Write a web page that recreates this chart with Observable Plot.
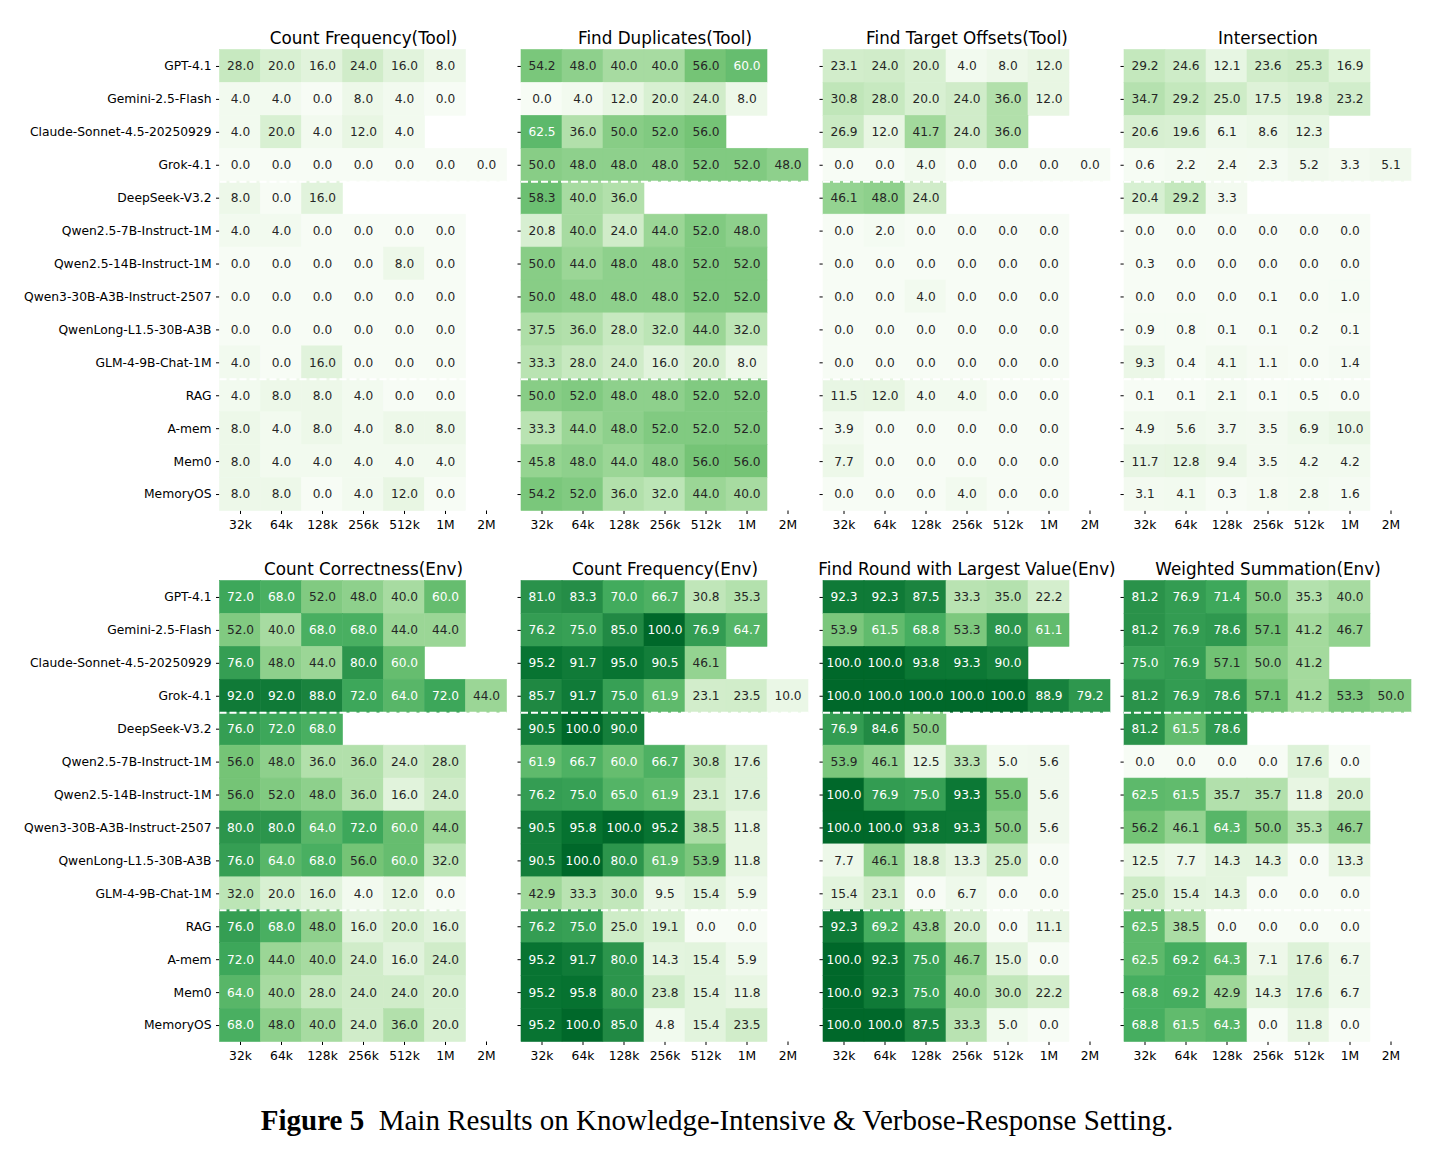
<!DOCTYPE html>
<html><head><meta charset="utf-8">
<script src="https://cdn.jsdelivr.net/npm/d3@7"></script>
<script src="https://cdn.jsdelivr.net/npm/@observablehq/plot@0.6"></script>
<style>
body{margin:0;background:#fff;}
#wrap{position:relative;width:1434px;height:1152px;overflow:hidden;}
.panel{position:absolute;}
#caption{position:absolute;left:0;width:1434px;top:1103px;text-align:center;font-family:"Liberation Serif","Times New Roman",serif;font-size:29px;line-height:34px;color:#000;white-space:pre;}
</style></head><body><div id="wrap"><div id="caption"><b>Figure 5</b>  Main Results on Knowledge-Intensive &amp; Verbose-Response Setting.</div></div>
<script>
const models = ["GPT-4.1","Gemini-2.5-Flash","Claude-Sonnet-4.5-20250929","Grok-4.1","DeepSeek-V3.2","Qwen2.5-7B-Instruct-1M","Qwen2.5-14B-Instruct-1M","Qwen3-30B-A3B-Instruct-2507","QwenLong-L1.5-30B-A3B","GLM-4-9B-Chat-1M","RAG","A-mem","Mem0","MemoryOS"];
const lengths = ["32k","64k","128k","256k","512k","1M","2M"];
const titles = ["Count Frequency(Tool)","Find Duplicates(Tool)","Find Target Offsets(Tool)","Intersection","Count Correctness(Env)","Count Frequency(Env)","Find Round with Largest Value(Env)","Weighted Summation(Env)"];
const separatorsBefore = ["DeepSeek-V3.2","RAG"];

const countFrequencyTool = [
  [28.0,20.0,16.0,24.0,16.0,8.0,null],
  [4.0,4.0,0.0,8.0,4.0,0.0,null],
  [4.0,20.0,4.0,12.0,4.0,null,null],
  [0.0,0.0,0.0,0.0,0.0,0.0,0.0],
  [8.0,0.0,16.0,null,null,null,null],
  [4.0,4.0,0.0,0.0,0.0,0.0,null],
  [0.0,0.0,0.0,0.0,8.0,0.0,null],
  [0.0,0.0,0.0,0.0,0.0,0.0,null],
  [0.0,0.0,0.0,0.0,0.0,0.0,null],
  [4.0,0.0,16.0,0.0,0.0,0.0,null],
  [4.0,8.0,8.0,4.0,0.0,0.0,null],
  [8.0,4.0,8.0,4.0,8.0,8.0,null],
  [8.0,4.0,4.0,4.0,4.0,4.0,null],
  [8.0,8.0,0.0,4.0,12.0,0.0,null]
];
const findDuplicatesTool = [
  [54.2,48.0,40.0,40.0,56.0,60.0,null],
  [0.0,4.0,12.0,20.0,24.0,8.0,null],
  [62.5,36.0,50.0,52.0,56.0,null,null],
  [50.0,48.0,48.0,48.0,52.0,52.0,48.0],
  [58.3,40.0,36.0,null,null,null,null],
  [20.8,40.0,24.0,44.0,52.0,48.0,null],
  [50.0,44.0,48.0,48.0,52.0,52.0,null],
  [50.0,48.0,48.0,48.0,52.0,52.0,null],
  [37.5,36.0,28.0,32.0,44.0,32.0,null],
  [33.3,28.0,24.0,16.0,20.0,8.0,null],
  [50.0,52.0,48.0,48.0,52.0,52.0,null],
  [33.3,44.0,48.0,52.0,52.0,52.0,null],
  [45.8,48.0,44.0,48.0,56.0,56.0,null],
  [54.2,52.0,36.0,32.0,44.0,40.0,null]
];
const findTargetOffsetsTool = [
  [23.1,24.0,20.0,4.0,8.0,12.0,null],
  [30.8,28.0,20.0,24.0,36.0,12.0,null],
  [26.9,12.0,41.7,24.0,36.0,null,null],
  [0.0,0.0,4.0,0.0,0.0,0.0,0.0],
  [46.1,48.0,24.0,null,null,null,null],
  [0.0,2.0,0.0,0.0,0.0,0.0,null],
  [0.0,0.0,0.0,0.0,0.0,0.0,null],
  [0.0,0.0,4.0,0.0,0.0,0.0,null],
  [0.0,0.0,0.0,0.0,0.0,0.0,null],
  [0.0,0.0,0.0,0.0,0.0,0.0,null],
  [11.5,12.0,4.0,4.0,0.0,0.0,null],
  [3.9,0.0,0.0,0.0,0.0,0.0,null],
  [7.7,0.0,0.0,0.0,0.0,0.0,null],
  [0.0,0.0,0.0,4.0,0.0,0.0,null]
];
const intersection = [
  [29.2,24.6,12.1,23.6,25.3,16.9,null],
  [34.7,29.2,25.0,17.5,19.8,23.2,null],
  [20.6,19.6,6.1,8.6,12.3,null,null],
  [0.6,2.2,2.4,2.3,5.2,3.3,5.1],
  [20.4,29.2,3.3,null,null,null,null],
  [0.0,0.0,0.0,0.0,0.0,0.0,null],
  [0.3,0.0,0.0,0.0,0.0,0.0,null],
  [0.0,0.0,0.0,0.1,0.0,1.0,null],
  [0.9,0.8,0.1,0.1,0.2,0.1,null],
  [9.3,0.4,4.1,1.1,0.0,1.4,null],
  [0.1,0.1,2.1,0.1,0.5,0.0,null],
  [4.9,5.6,3.7,3.5,6.9,10.0,null],
  [11.7,12.8,9.4,3.5,4.2,4.2,null],
  [3.1,4.1,0.3,1.8,2.8,1.6,null]
];
const countCorrectnessEnv = [
  [72.0,68.0,52.0,48.0,40.0,60.0,null],
  [52.0,40.0,68.0,68.0,44.0,44.0,null],
  [76.0,48.0,44.0,80.0,60.0,null,null],
  [92.0,92.0,88.0,72.0,64.0,72.0,44.0],
  [76.0,72.0,68.0,null,null,null,null],
  [56.0,48.0,36.0,36.0,24.0,28.0,null],
  [56.0,52.0,48.0,36.0,16.0,24.0,null],
  [80.0,80.0,64.0,72.0,60.0,44.0,null],
  [76.0,64.0,68.0,56.0,60.0,32.0,null],
  [32.0,20.0,16.0,4.0,12.0,0.0,null],
  [76.0,68.0,48.0,16.0,20.0,16.0,null],
  [72.0,44.0,40.0,24.0,16.0,24.0,null],
  [64.0,40.0,28.0,24.0,24.0,20.0,null],
  [68.0,48.0,40.0,24.0,36.0,20.0,null]
];
const countFrequencyEnv = [
  [81.0,83.3,70.0,66.7,30.8,35.3,null],
  [76.2,75.0,85.0,100.0,76.9,64.7,null],
  [95.2,91.7,95.0,90.5,46.1,null,null],
  [85.7,91.7,75.0,61.9,23.1,23.5,10.0],
  [90.5,100.0,90.0,null,null,null,null],
  [61.9,66.7,60.0,66.7,30.8,17.6,null],
  [76.2,75.0,65.0,61.9,23.1,17.6,null],
  [90.5,95.8,100.0,95.2,38.5,11.8,null],
  [90.5,100.0,80.0,61.9,53.9,11.8,null],
  [42.9,33.3,30.0,9.5,15.4,5.9,null],
  [76.2,75.0,25.0,19.1,0.0,0.0,null],
  [95.2,91.7,80.0,14.3,15.4,5.9,null],
  [95.2,95.8,80.0,23.8,15.4,11.8,null],
  [95.2,100.0,85.0,4.8,15.4,23.5,null]
];
const findRoundLargestEnv = [
  [92.3,92.3,87.5,33.3,35.0,22.2,null],
  [53.9,61.5,68.8,53.3,80.0,61.1,null],
  [100.0,100.0,93.8,93.3,90.0,null,null],
  [100.0,100.0,100.0,100.0,100.0,88.9,79.2],
  [76.9,84.6,50.0,null,null,null,null],
  [53.9,46.1,12.5,33.3,5.0,5.6,null],
  [100.0,76.9,75.0,93.3,55.0,5.6,null],
  [100.0,100.0,93.8,93.3,50.0,5.6,null],
  [7.7,46.1,18.8,13.3,25.0,0.0,null],
  [15.4,23.1,0.0,6.7,0.0,0.0,null],
  [92.3,69.2,43.8,20.0,0.0,11.1,null],
  [100.0,92.3,75.0,46.7,15.0,0.0,null],
  [100.0,92.3,75.0,40.0,30.0,22.2,null],
  [100.0,100.0,87.5,33.3,5.0,0.0,null]
];
const weightedSummationEnv = [
  [81.2,76.9,71.4,50.0,35.3,40.0,null],
  [81.2,76.9,78.6,57.1,41.2,46.7,null],
  [75.0,76.9,57.1,50.0,41.2,null,null],
  [81.2,76.9,78.6,57.1,41.2,53.3,50.0],
  [81.2,61.5,78.6,null,null,null,null],
  [0.0,0.0,0.0,0.0,17.6,0.0,null],
  [62.5,61.5,35.7,35.7,11.8,20.0,null],
  [56.2,46.1,64.3,50.0,35.3,46.7,null],
  [12.5,7.7,14.3,14.3,0.0,13.3,null],
  [25.0,15.4,14.3,0.0,0.0,0.0,null],
  [62.5,38.5,0.0,0.0,0.0,0.0,null],
  [62.5,69.2,64.3,7.1,17.6,6.7,null],
  [68.8,69.2,42.9,14.3,17.6,6.7,null],
  [68.8,61.5,64.3,0.0,11.8,0.0,null]
];
const panelValues = [countFrequencyTool, findDuplicatesTool, findTargetOffsetsTool, intersection,
  countCorrectnessEnv, countFrequencyEnv, findRoundLargestEnv, weightedSummationEnv];

// Greens colormap (ColorBrewer 9-class), linear RGB interpolation like matplotlib
const greens9 = ["#f7fcf5","#e5f5e0","#c7e9c0","#a1d99b","#74c476","#41ab5d","#238b45","#006d2c","#00441b"];
const vTop = 100 / 0.89;
const stops = d3.range(9).map(i => i * vTop / 8);
const cscale = d3.scaleLinear().domain(stops).range(greens9).interpolate(d3.interpolateRgb);
function lum(c) {
  const r = d3.rgb(c);
  const f = v => { v /= 255; return v <= 0.03928 ? v / 12.92 : Math.pow((v + 0.055) / 1.055, 2.4); };
  return 0.2126 * f(r.r) + 0.7152 * f(r.g) + 0.0722 * f(r.b);
}
const isDark = v => lum(cscale(v)) <= 0.408;

const colW = 41, rowH = 461 / 14;
const W = colW * 7, H = rowH * 14;
const cellLefts = [219.5, 521, 822.5, 1123.5];
const rowTops = [0, 531];
const mt = 49.5, mb = 36;
const wrap = document.getElementById("wrap");

panelValues.forEach((vals, idx) => {
  const col = idx % 4, row = Math.floor(idx / 4);
  const ml = col === 0 ? cellLefts[0] : 16;
  const left = cellLefts[col] - ml;
  const data = [];
  models.forEach((m, i) => lengths.forEach((l, j) => {
    const v = vals[i][j];
    if (v != null) data.push({model: m, len: l, v});
  }));
  const plot = Plot.plot({
    width: ml + W + 10,
    height: mt + H + mb,
    marginLeft: ml, marginRight: 10, marginTop: mt, marginBottom: mb,
    x: {domain: lengths, padding: 0, round: false, label: null, tickSize: 3.5, tickPadding: 6},
    y: {domain: models, padding: 0, round: false, label: null, tickSize: 3.5, tickPadding: 5,
        tickFormat: col === 0 ? (d => d) : (() => "")},
    color: {type: "linear", domain: stops, range: greens9, interpolate: d3.interpolateRgb},
    style: {fontFamily: "DejaVu Sans", fontSize: "12.3px", color: "#000", background: "transparent", overflow: "visible"},
    marks: [
      Plot.cell(data, {x: "len", y: "model", fill: "v", stroke: "v", strokeWidth: 0.6, inset: 0}),
      Plot.text(data.filter(d => !isDark(d.v)), {x: "len", y: "model", text: d => d.v.toFixed(1), fill: "#262626", fontSize: 12.2}),
      Plot.text(data.filter(d => isDark(d.v)), {x: "len", y: "model", text: d => d.v.toFixed(1), fill: "#ffffff", fontSize: 12.2}),
      Plot.ruleY(separatorsBefore, {y: d => d, stroke: "#ffffff", strokeWidth: 2, strokeDasharray: "7,3", dy: -rowH / 2}),
      Plot.text([titles[idx]], {frameAnchor: "top", dy: -6, lineAnchor: "bottom", fontSize: 16.8, fill: "#000"})
    ]
  });
  plot.classList.add("panel");
  plot.style.left = left + "px";
  plot.style.top = rowTops[row] + "px";
  wrap.appendChild(plot);
});
</script>
</body></html>
